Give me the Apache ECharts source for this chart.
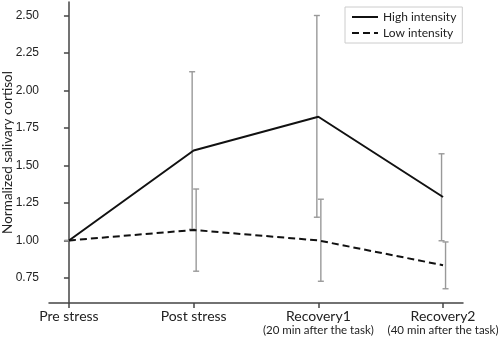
<!DOCTYPE html>
<html>
<head>
<meta charset="utf-8">
<script src="https://cdn.jsdelivr.net/npm/echarts@6/dist/echarts.min.js"></script>
<style>
  html, body { margin: 0; padding: 0; background: #fff; }
  #chart { width: 498px; height: 338px; }
</style>
</head>
<body>
<div id="chart"></div>
<script>
// categories (x positions 0..3)
const categories = ['Pre stress', 'Post stress', 'Recovery1', 'Recovery2']
const subLabels = ['', '', '(20 min after the task)', '(40 min after the task)']

// means
const highMean = [1.00, 1.60, 1.825, 1.29]
const lowMean = [1.00, 1.07, 1.00, 0.835]

// error bar ends
const highLow = [1.00, 1.075, 1.155, 0.998]
const highHigh = [1.00, 2.125, 2.50, 1.578]
const lowLow = [1.00, 0.795, 0.728, 0.678]
const lowHigh = [1.00, 1.343, 1.275, 0.99]

const yTicks = [0.75, 1.00, 1.25, 1.50, 1.75, 2.00, 2.25, 2.50]

const chart = echarts.init(document.getElementById('chart'), null, { renderer: 'canvas' })

// error bar drawing, dx = small pixel shift so the two bars don't overlap
const errorBar = (dx) => (params, api) => {
  const x = api.value(0)
  const top = api.coord([x, api.value(2)])
  const bot = api.coord([x, api.value(1)])
  const cx = top[0] + dx
  const w = 3
  const style = { stroke: '#999', lineWidth: 1.4 }
  return {
    type: 'group',
    children: [
      { type: 'line', shape: { x1: cx, y1: top[1], x2: cx, y2: bot[1] }, style },
      { type: 'line', shape: { x1: cx - w, y1: top[1], x2: cx + w, y2: top[1] }, style },
      { type: 'line', shape: { x1: cx - w, y1: bot[1], x2: cx + w, y2: bot[1] }, style }
    ]
  }
}

const option = {
  animation: false,
  backgroundColor: '#fff',
  grid: { left: 49, right: 35, top: 2, bottom: 35, outerBoundsMode: 'none', containLabel: false },
  legend: {
    orient: 'vertical',
    left: 345,
    top: 7,
    itemWidth: 26,
    itemHeight: 14,
    itemGap: 4,
    padding: [4, 6, 4, 6],
    borderColor: '#ccc',
    borderWidth: 1,
    itemStyle: { opacity: 0 },
    textStyle: { fontFamily: 'Lato', fontSize: 12, color: '#222' },
    data: ['High intensity', 'Low intensity']
  },
  xAxis: {
    type: 'value',
    min: -0.16,
    max: 3.16,
    splitLine: { show: false },
    axisLine: { lineStyle: { color: '#444', width: 1.5 } },
    axisTick: { customValues: [0, 1, 2, 3], length: 5, lineStyle: { color: '#444', width: 1.5 } },
    axisLabel: {
      customValues: [0, 1, 2, 3],
      margin: 6,
      verticalAlign: 'top',
      formatter: v => {
        const i = Math.round(v)
        return subLabels[i]
          ? `{a|${categories[i]}}\n{b|${subLabels[i]}}`
          : `{a|${categories[i]}}`
      },
      rich: {
        a: { fontFamily: 'Lato', fontSize: 14, color: '#222', lineHeight: 15 },
        b: { fontFamily: 'Lato', fontSize: 11.5, color: '#222', lineHeight: 13 }
      }
    }
  },
  yAxis: {
    type: 'value',
    min: 0.583,
    max: 2.59,
    name: 'Normalized salivary cortisol',
    nameLocation: 'middle',
    nameGap: 34,
    nameMoveOverlap: false,
    nameTextStyle: { fontFamily: 'Lato', fontSize: 13.5, color: '#222' },
    splitLine: { show: false },
    axisLine: { show: true, lineStyle: { color: '#444', width: 1.5 } },
    axisTick: { show: true, customValues: yTicks, length: 5, lineStyle: { color: '#444', width: 1.5 } },
    axisLabel: {
      customValues: yTicks,
      margin: 10,
      fontFamily: 'Liberation Sans',
      fontSize: 12,
      color: '#222',
      formatter: v => v.toFixed(2)
    }
  },
  series: [
    {
      name: 'High intensity',
      type: 'line',
      symbol: 'none',
      z: 3,
      lineStyle: { color: '#111', width: 2 },
      itemStyle: { color: '#111' },
      data: highMean.map((v, i) => [i, v])
    },
    {
      name: 'Low intensity',
      type: 'line',
      symbol: 'none',
      z: 3,
      lineStyle: { color: '#111', width: 2, type: [7, 4] },
      itemStyle: { color: '#111' },
      data: lowMean.map((v, i) => [i, v])
    },
    {
      type: 'custom',
      z: 2,
      renderItem: errorBar(-1.5),
      data: highLow.map((v, i) => [i, v, highHigh[i]])
    },
    {
      type: 'custom',
      z: 2,
      renderItem: errorBar(2.5),
      data: lowLow.map((v, i) => [i, v, lowHigh[i]])
    }
  ]
}

chart.setOption(option)
</script>
</body>
</html>
